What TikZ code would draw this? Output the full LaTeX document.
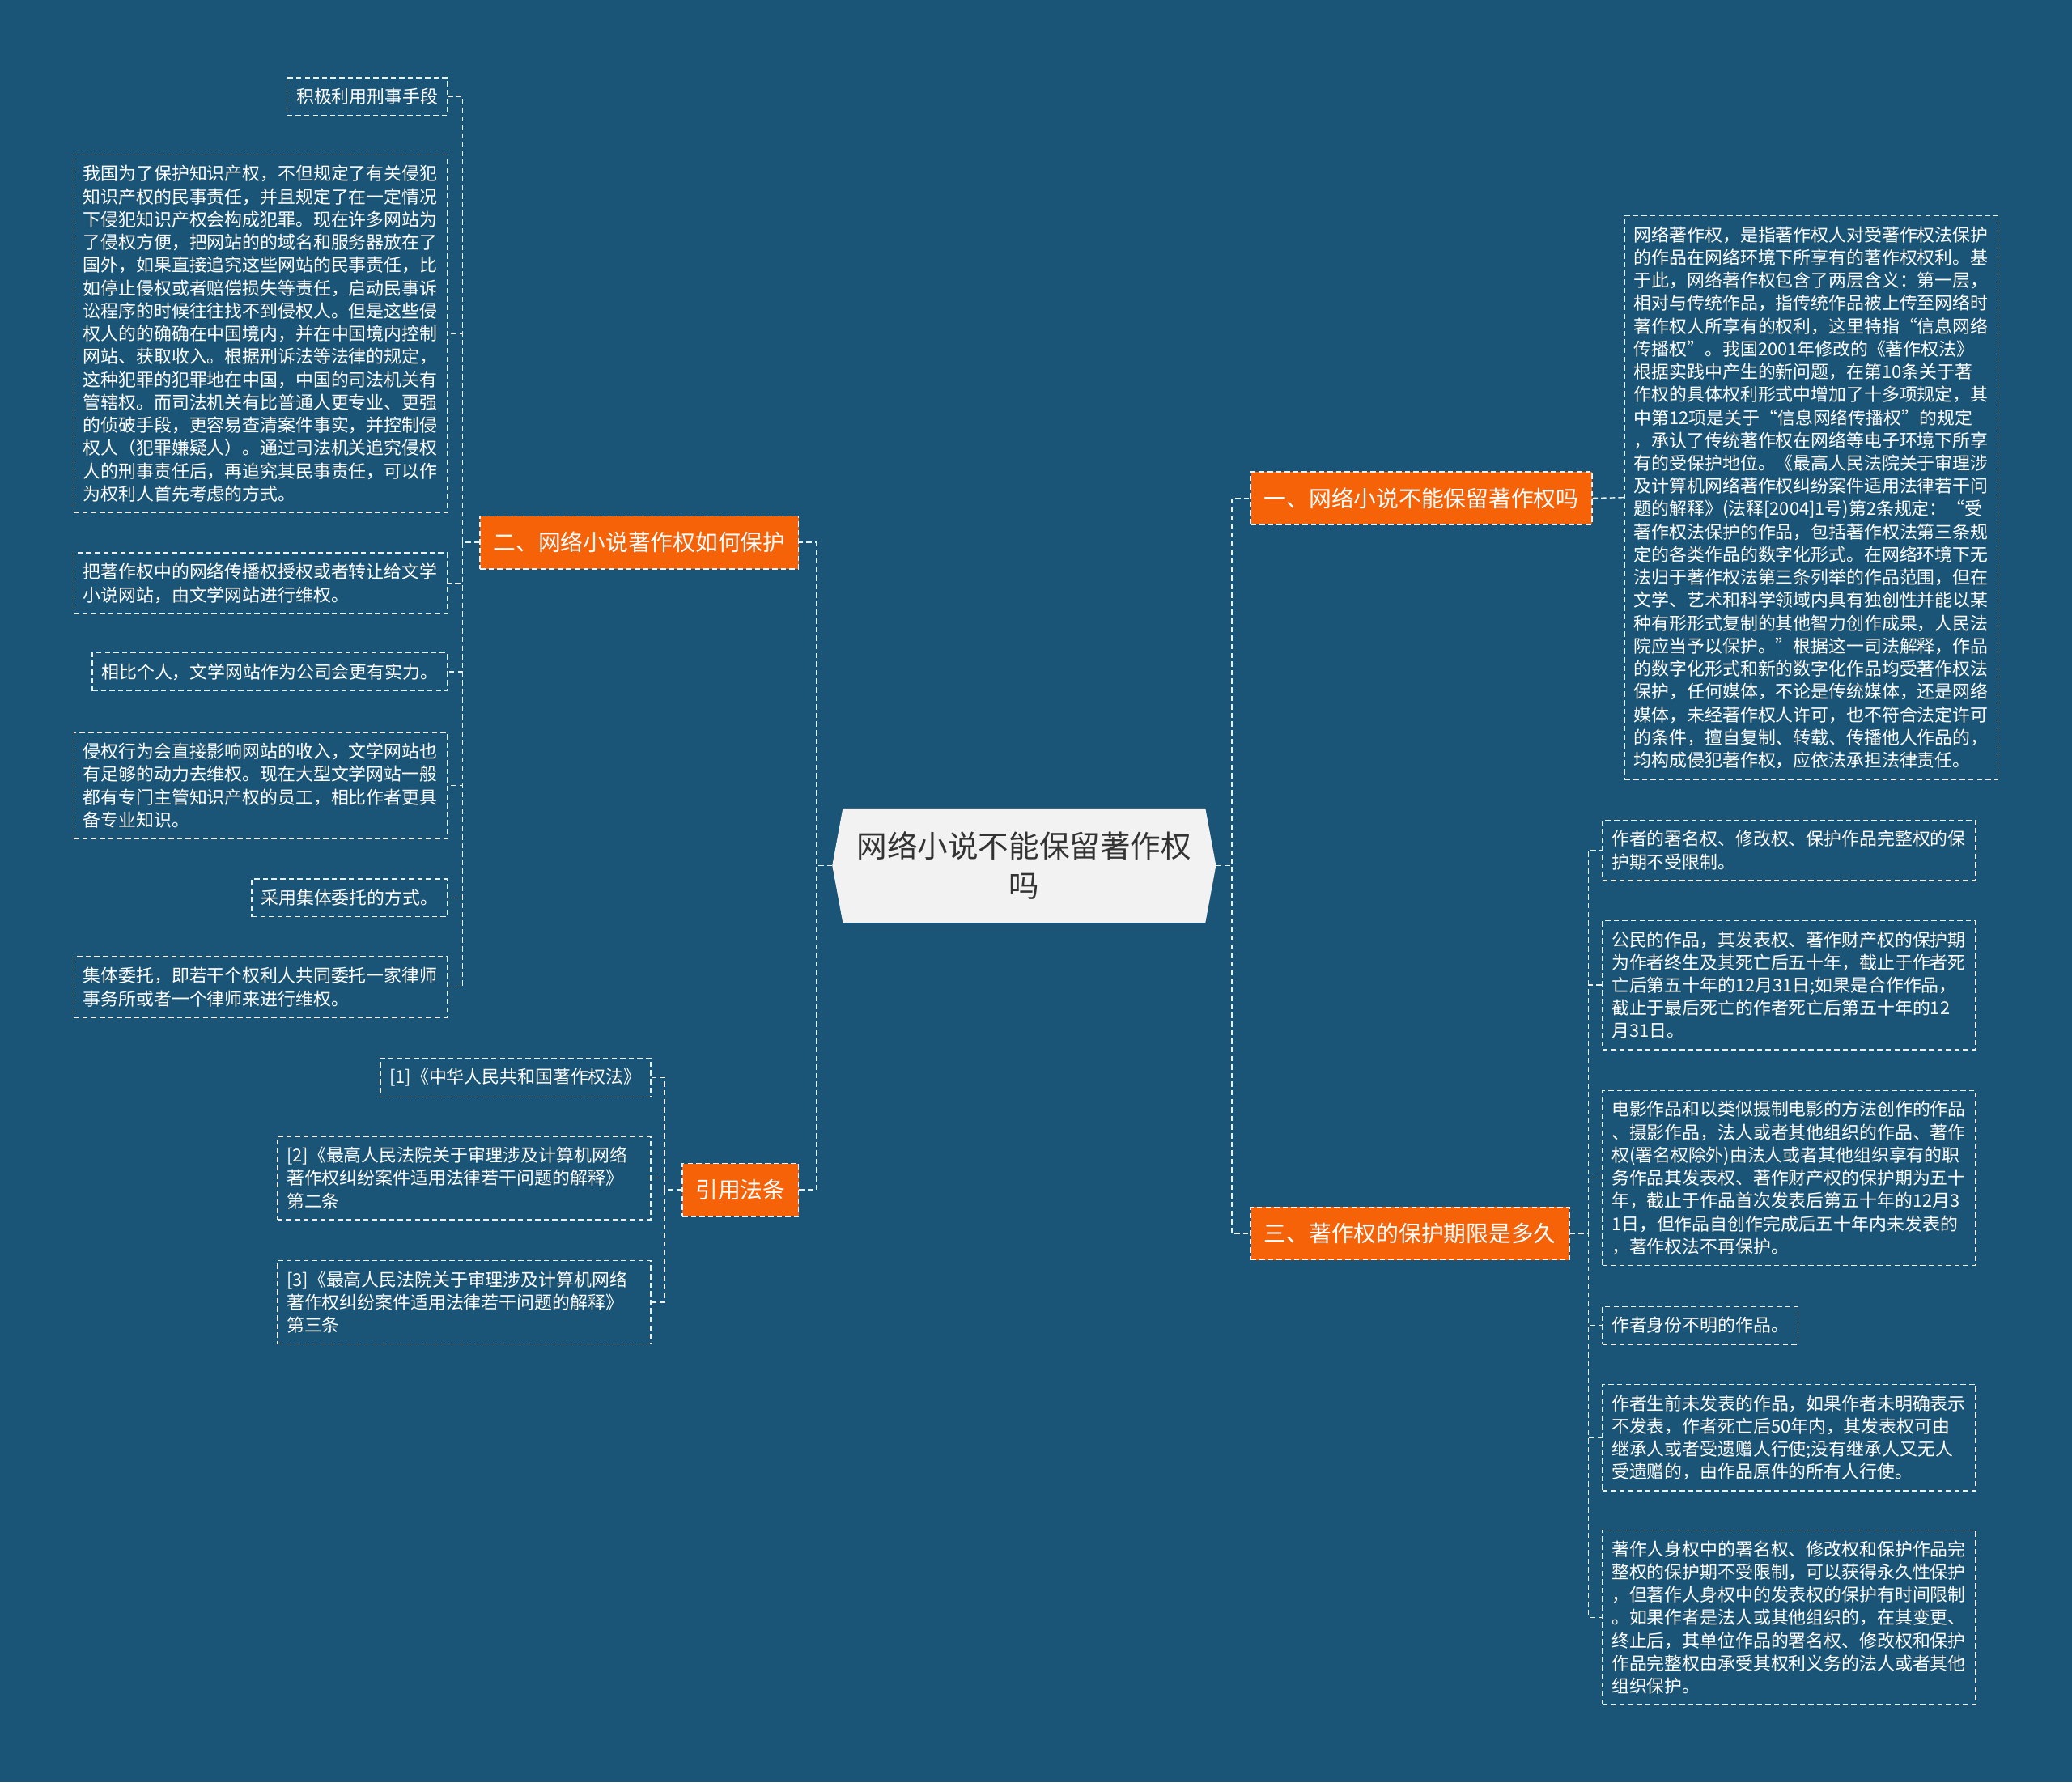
\documentclass[tikz,border=0pt]{standalone}
\usepackage{fontspec}
\newfontfamily\cjk{Noto Sans CJK SC}
\usepackage{tikz}
\usetikzlibrary{positioning,backgrounds}

\definecolor{mapbg}{RGB}{26,84,119}
\definecolor{topicorange}{RGB}{246,98,8}
\definecolor{rootgray}{RGB}{242,242,242}
\definecolor{linegray}{RGB}{236,241,245}

\begin{document}
\begin{tikzpicture}[
  x=1pt, y=-1pt,
  root/.style={
    minimum width=290pt,
    minimum height=86pt,
    inner sep=0pt,
    align=center,
    text=black!80,
    font=\cjk\fontsize{23}{30}\selectfont
  },
  topic/.style={
    fill=topicorange,
    draw=linegray,
    line width=0.9pt,
    dash pattern=on 4pt off 2.5pt,
    text=white,
    inner xsep=10pt,
    minimum height=40pt,
    font=\cjk\fontsize{17}{21}\selectfont
  },
  leaf/.style={
    draw=linegray,
    line width=0.9pt,
    dash pattern=on 4pt off 2.5pt,
    text=white,
    inner xsep=7pt,
    inner ysep=8pt,
    align=left,
    font=\cjk\fontsize{13.4}{17.3}\selectfont
  },
  leafwide/.style={leaf, text width=268.5pt},
  link/.style={draw=linegray, line width=0.9pt, dash pattern=on 4pt off 2.5pt}
]
\node[root] (root) at (775,655) {网络小说不能保留著作权\\吗};

% main topics
\node[topic,right=26pt of root,yshift=278pt] (b1) {一、网络小说不能保留著作权吗};
\node[topic,right=26pt of root,yshift=-278.5pt] (b3) {三、著作权的保护期限是多久};
\node[topic,left=25pt of root,yshift=244.5pt] (b2) {二、网络小说著作权如何保护};
\node[topic,left=25pt of root,yshift=-245.5pt] (b4) {引用法条};

% topic one
\node[leafwide,right=24pt of b1,yshift=0.5pt] (a1) {网络著作权，是指著作权人对受著作权法保护\\
的作品在网络环境下所享有的著作权权利。基\\
于此，网络著作权包含了两层含义：第一层，\\
相对与传统作品，指传统作品被上传至网络时\\
著作权人所享有的权利，这里特指“信息网络\\
传播权”。我国2001年修改的《著作权法》\\
根据实践中产生的新问题，在第10条关于著\\
作权的具体权利形式中增加了十多项规定，其\\
中第12项是关于“信息网络传播权”的规定\\
，承认了传统著作权在网络等电子环境下所享\\
有的受保护地位。《最高人民法院关于审理涉\\
及计算机网络著作权纠纷案件适用法律若干问\\
题的解释》(法释[2004]1号)第2条规定：“受\\
著作权法保护的作品，包括著作权法第三条规\\
定的各类作品的数字化形式。在网络环境下无\\
法归于著作权法第三条列举的作品范围，但在\\
文学、艺术和科学领域内具有独创性并能以某\\
种有形形式复制的其他智力创作成果，人民法\\
院应当予以保护。”根据这一司法解释，作品\\
的数字化形式和新的数字化作品均受著作权法\\
保护，任何媒体，不论是传统媒体，还是网络\\
媒体，未经著作权人许可，也不符合法定许可\\
的条件，擅自复制、转载、传播他人作品的，\\
均构成侵犯著作权，应依法承担法律责任。};

% topic three
\node[leafwide,right=24pt of b3,yshift=290pt] (c1) {作者的署名权、修改权、保护作品完整权的保\\
护期不受限制。};
\node[leafwide,right=24pt of b3,yshift=188pt] (c2) {公民的作品，其发表权、著作财产权的保护期\\
为作者终生及其死亡后五十年，截止于作者死\\
亡后第五十年的12月31日;如果是合作作品，\\
截止于最后死亡的作者死亡后第五十年的12\\
月31日。};
\node[leafwide,right=24pt of b3,yshift=42pt] (c3) {电影作品和以类似摄制电影的方法创作的作品\\
、摄影作品，法人或者其他组织的作品、著作\\
权(署名权除外)由法人或者其他组织享有的职\\
务作品其发表权、著作财产权的保护期为五十\\
年，截止于作品首次发表后第五十年的12月3\\
1日，但作品自创作完成后五十年内未发表的\\
，著作权法不再保护。};
\node[leaf,right=24pt of b3,yshift=-69.5pt] (c4) {作者身份不明的作品。};
\node[leafwide,right=24pt of b3,yshift=-154.5pt] (c5) {作者生前未发表的作品，如果作者未明确表示\\
不发表，作者死亡后50年内，其发表权可由\\
继承人或者受遗赠人行使;没有继承人又无人\\
受遗赠的，由作品原件的所有人行使。};
\node[leafwide,right=24pt of b3,yshift=-290.5pt] (c6) {著作人身权中的署名权、修改权和保护作品完\\
整权的保护期不受限制，可以获得永久性保护\\
，但著作人身权中的发表权的保护有时间限制\\
。如果作者是法人或其他组织的，在其变更、\\
终止后，其单位作品的署名权、修改权和保护\\
作品完整权由承受其权利义务的法人或者其他\\
组织保护。};

% topic two
\node[leaf,left=24pt of b2,yshift=337.5pt] (l1) {积极利用刑事手段};
\node[leafwide,left=24pt of b2,yshift=158pt] (l2) {我国为了保护知识产权，不但规定了有关侵犯\\
知识产权的民事责任，并且规定了在一定情况\\
下侵犯知识产权会构成犯罪。现在许多网站为\\
了侵权方便，把网站的的域名和服务器放在了\\
国外，如果直接追究这些网站的民事责任，比\\
如停止侵权或者赔偿损失等责任，启动民事诉\\
讼程序的时候往往找不到侵权人。但是这些侵\\
权人的的确确在中国境内，并在中国境内控制\\
网站、获取收入。根据刑诉法等法律的规定，\\
这种犯罪的犯罪地在中国，中国的司法机关有\\
管辖权。而司法机关有比普通人更专业、更强\\
的侦破手段，更容易查清案件事实，并控制侵\\
权人（犯罪嫌疑人）。通过司法机关追究侵权\\
人的刑事责任后，再追究其民事责任，可以作\\
为权利人首先考虑的方式。};
\node[leafwide,left=24pt of b2,yshift=-31pt] (l3) {把著作权中的网络传播权授权或者转让给文学\\
小说网站，由文学网站进行维权。};
\node[leaf,left=24pt of b2,yshift=-98pt] (l4) {相比个人，文学网站作为公司会更有实力。};
\node[leafwide,left=24pt of b2,yshift=-184pt] (l5) {侵权行为会直接影响网站的收入，文学网站也\\
有足够的动力去维权。现在大型文学网站一般\\
都有专门主管知识产权的员工，相比作者更具\\
备专业知识。};
\node[leaf,left=24pt of b2,yshift=-269pt] (l6) {采用集体委托的方式。};
\node[leafwide,left=24pt of b2,yshift=-336.5pt] (l7) {集体委托，即若干个权利人共同委托一家律师\\
事务所或者一个律师来进行维权。};

% topic four
\node[leaf,left=23pt of b4,yshift=85pt] (r1) {[1]《中华人民共和国著作权法》};
\node[leafwide,left=23pt of b4,yshift=9pt] (r2) {[2]《最高人民法院关于审理涉及计算机网络\\
著作权纠纷案件适用法律若干问题的解释》\\
第二条};
\node[leafwide,left=23pt of b4,yshift=-85pt] (r3) {[3]《最高人民法院关于审理涉及计算机网络\\
著作权纠纷案件适用法律若干问题的解释》\\
第三条};

% connectors
\draw[link] (root.east) -- ++(12,0) |- (b1.west);
\draw[link] (root.east) -- ++(12,0) |- (b3.west);
\draw[link] (root.west) -- ++(-12,0) |- (b2.east);
\draw[link] (root.west) -- ++(-12,0) |- (b4.east);
\draw[link] (b1.east) -- (a1.west);
\foreach \i in {1,...,6}
  \draw[link] (b3.east) -- ++(14,0) |- (c\i.west);
\foreach \i in {1,...,7}
  \draw[link] (b2.west) -- ++(-13,0) |- (l\i.east);
\foreach \i in {1,...,3}
  \draw[link] (b4.west) -- ++(-13,0) |- (r\i.east);

\begin{scope}[on background layer]
  \fill[mapbg] (0,0) rectangle (1568,1349);
  \fill[rootgray] (root.west) -- ([xshift=8pt]root.north west)
    -- ([xshift=-8pt]root.north east) -- (root.east)
    -- ([xshift=-8pt]root.south east) -- ([xshift=8pt]root.south west) -- cycle;
\end{scope}
\end{tikzpicture}
\end{document}
